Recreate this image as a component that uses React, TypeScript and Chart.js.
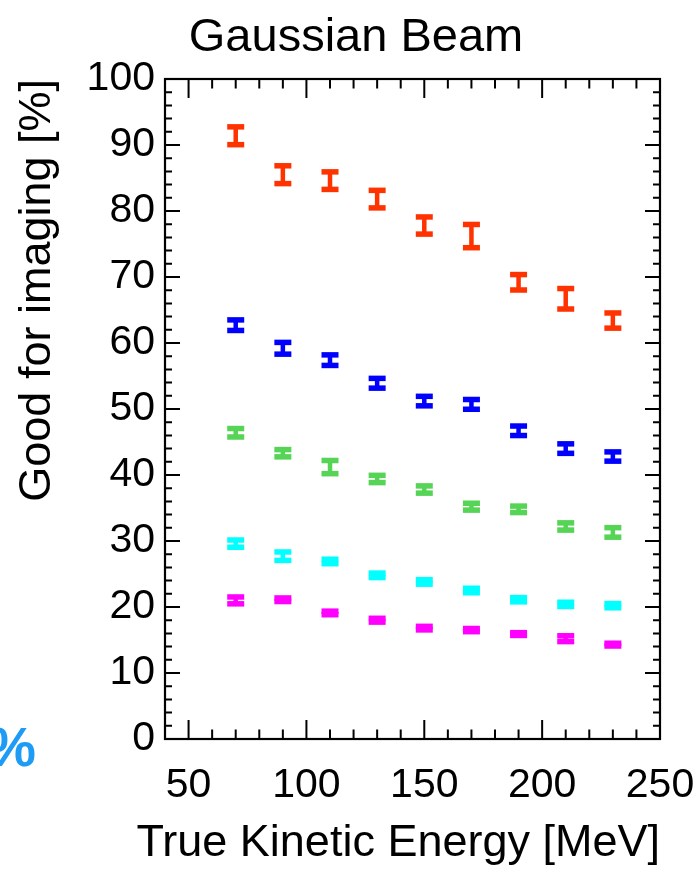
import React, { useEffect, useRef } from "react";
import { Chart, registerables } from "chart.js";

Chart.register(...registerables);

const FONT = "'Liberation Sans', Arial, Helvetica, sans-serif";

const chartTitle = "Gaussian Beam";
const xAxisTitle = "True Kinetic Energy [MeV]";
const yAxisTitle = "Good for imaging [%]";
const sideFragment = "%";

const energies = [70, 90, 110, 130, 150, 170, 190, 210, 230];

const redValues = [91.4, 85.5, 84.6, 81.8, 77.8, 76.2, 69.2, 66.7, 63.4];
const redErrors = [1.35, 1.35, 1.33, 1.33, 1.3, 1.76, 1.17, 1.55, 1.15];

const blueValues = [62.7, 59.2, 57.4, 53.9, 51.2, 50.7, 46.7, 44.0, 42.8];
const blueErrors = [0.8, 0.89, 0.8, 0.74, 0.72, 0.74, 0.72, 0.72, 0.7];

const greenValues = [46.4, 43.3, 41.2, 39.4, 37.8, 35.2, 34.8, 32.2, 31.3];
const greenErrors = [0.64, 0.55, 1.0, 0.55, 0.55, 0.52, 0.49, 0.55, 0.72];

const cyanValues = [29.6, 27.7, 26.9, 24.8, 23.8, 22.5, 21.1, 20.4, 20.2];
const cyanErrors = [0.55, 0.64, 0.34, 0.34, 0.34, 0.34, 0.32, 0.32, 0.32];

const magentaValues = [21.0, 21.1, 19.1, 18.0, 16.8, 16.5, 15.9, 15.2, 14.3];
const magentaErrors = [0.52, 0.27, 0.27, 0.29, 0.27, 0.24, 0.21, 0.44, 0.21];

const xTicks = [50, 100, 150, 200, 250];
const yTicks = [0, 10, 20, 30, 40, 50, 60, 70, 80, 90, 100];
const xMin = 40;
const xMax = 250;
const xMinorStep = 10;
const yMin = 0;
const yMax = 100;
const yMinorStep = 2;

const seriesList = [
  { name: "red", color: "#ff3300", values: redValues, errors: redErrors },
  { name: "blue", color: "#0000ff", values: blueValues, errors: blueErrors },
  { name: "green", color: "#55d455", values: greenValues, errors: greenErrors },
  { name: "cyan", color: "#00ffff", values: cyanValues, errors: cyanErrors },
  { name: "magenta", color: "#ff00ff", values: magentaValues, errors: magentaErrors },
];

const errorBarPlugin = {
  id: "errorBars",
  afterDatasetsDraw(chart: any) {
    const ctx = chart.ctx;
    const yScale = chart.scales.y;
    const xScale = chart.scales.x;
    const capW = 17;
    const capH = 5.5;
    const stemW = 4.5;
    ctx.save();
    chart.data.datasets.forEach((ds: any) => {
      ctx.fillStyle = ds.borderColor;
      ds.data.forEach((pt: any) => {
        const px = xScale.getPixelForValue(pt.x);
        const yHi = yScale.getPixelForValue(pt.y + pt.err);
        const yLo = yScale.getPixelForValue(pt.y - pt.err);
        ctx.fillRect(px - stemW / 2, yHi, stemW, yLo - yHi);
        ctx.fillRect(px - capW / 2, yHi - capH / 2, capW, capH);
        ctx.fillRect(px - capW / 2, yLo - capH / 2, capW, capH);
      });
    });
    ctx.restore();
  },
};

const framePlugin = {
  id: "frameTicks",
  afterDraw(chart: any) {
    const ctx = chart.ctx;
    const { left, right, top, bottom } = chart.chartArea;
    const xScale = chart.scales.x;
    const yScale = chart.scales.y;
    ctx.save();
    ctx.strokeStyle = "#000";
    ctx.lineWidth = 2;
    ctx.beginPath();
    for (let v = xMin; v <= xMax + 1e-6; v += xMinorStep) {
      const major = xTicks.includes(v);
      const len = major ? 19 : 9.5;
      const px = xScale.getPixelForValue(v);
      ctx.moveTo(px, bottom);
      ctx.lineTo(px, bottom - len);
      ctx.moveTo(px, top);
      ctx.lineTo(px, top + len);
    }
    for (let v = yMin; v <= yMax + 1e-6; v += yMinorStep) {
      const major = yTicks.includes(v);
      const len = major ? 15 : 7;
      const py = yScale.getPixelForValue(v);
      ctx.moveTo(left, py);
      ctx.lineTo(left + len, py);
      ctx.moveTo(right, py);
      ctx.lineTo(right - len, py);
    }
    ctx.stroke();
    ctx.lineWidth = 2.2;
    ctx.strokeRect(left, top, right - left, bottom - top);

    // chart title
    ctx.fillStyle = "#000";
    ctx.font = `47px ${FONT}`;
    ctx.textAlign = "center";
    ctx.textBaseline = "alphabetic";
    ctx.fillText(chartTitle, 356, 51);

    // x axis title, right-aligned at the end of the axis
    ctx.font = `45px ${FONT}`;
    ctx.textAlign = "right";
    ctx.fillText(xAxisTitle, right, 856);

    // fragment of neighbouring panel
    ctx.fillStyle = "#1e9cf5";
    ctx.font = `bold 55px ${FONT}`;
    ctx.textAlign = "right";
    ctx.fillText(sideFragment, 36, 766);
    ctx.restore();
  },
};

export default function App() {
  const ref = useRef<HTMLCanvasElement | null>(null);

  useEffect(() => {
    document.body.style.margin = "0";
    const canvas = ref.current;
    if (!canvas) return;
    const datasets = seriesList.map((s) => ({
      label: s.name,
      data: energies.map((e, i) => ({ x: e, y: s.values[i], err: s.errors[i] })),
      borderColor: s.color,
      backgroundColor: s.color,
      pointRadius: 0,
      showLine: false,
    }));
    const chart = new Chart(canvas, {
      type: "scatter",
      data: { datasets },
      options: {
        animation: false,
        responsive: false,
        devicePixelRatio: 1,
        layout: { padding: { top: 79, right: 38, left: 0, bottom: 0 } },
        plugins: {
          legend: { display: false },
          tooltip: { enabled: false },
          title: { display: false },
        },
        scales: {
          x: {
            type: "linear",
            min: xMin,
            max: xMax,
            afterBuildTicks: (s: any) => {
              s.ticks = xTicks.map((v) => ({ value: v }));
            },
            afterFit: (s: any) => {
              s.height = 141;
              s.paddingLeft = 0;
              s.paddingRight = 0;
              s.paddingTop = 0;
              s.paddingBottom = 0;
            },
            grid: { display: false, drawTicks: false },
            border: { display: false },
            ticks: {
              color: "#000",
              font: { family: FONT, size: 41 },
              padding: 22,
              maxRotation: 0,
              autoSkip: false,
            },
            title: { display: false },
          },
          y: {
            type: "linear",
            min: yMin,
            max: yMax,
            afterBuildTicks: (s: any) => {
              s.ticks = yTicks.map((v) => ({ value: v }));
            },
            afterFit: (s: any) => {
              s.width = 165;
              s.paddingLeft = 0;
              s.paddingRight = 0;
              s.paddingTop = 0;
              s.paddingBottom = 0;
            },
            grid: { display: false, drawTicks: false },
            border: { display: false },
            ticks: {
              color: "#000",
              font: { family: FONT, size: 41 },
              padding: 10,
              autoSkip: false,
            },
            title: {
              display: true,
              text: yAxisTitle,
              align: "end",
              color: "#000",
              font: { family: FONT, size: 45 },
              padding: { top: 11, bottom: 0 },
            },
          },
        },
      } as any,
      plugins: [errorBarPlugin, framePlugin],
    });
    return () => chart.destroy();
  }, []);

  return <canvas ref={ref} width={698} height={880} style={{ display: "block" }} />;
}
